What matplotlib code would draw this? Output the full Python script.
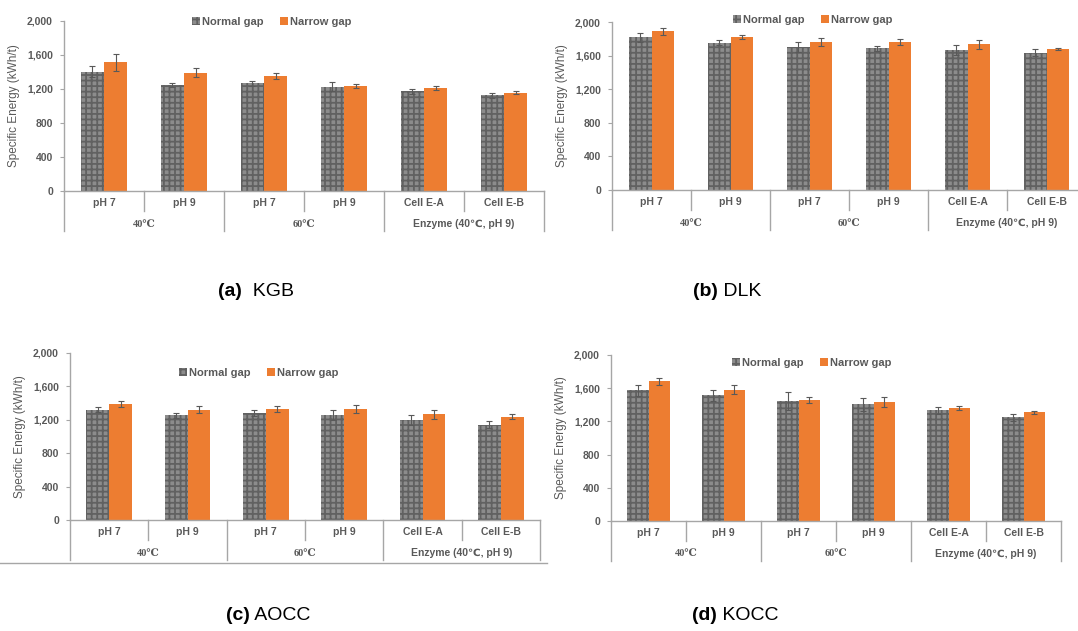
import matplotlib
matplotlib.use("Agg")
from matplotlib import pyplot as plt
from matplotlib.patches import Patch
from matplotlib.lines import Line2D
import numpy as np

plt.rcParams['font.family'] = ['Liberation Sans', 'DejaVu Sans']
plt.rcParams['hatch.linewidth'] = 1.3

# === Data ===
categories = ["pH 7", "pH 9", "pH 7", "pH 9", "Cell E-A", "Cell E-B"]
groups = ["40\u2103", "60\u2103", "Enzyme (40\u2103, pH 9)"]
series_names = ["Normal gap", "Narrow gap"]
yticks = [0, 400, 800, 1200, 1600, 2000]

kgb_normal = [1405, 1247, 1268, 1228, 1172, 1125]
kgb_normal_err = [60, 25, 30, 55, 30, 25]
kgb_narrow = [1517, 1394, 1352, 1238, 1215, 1158]
kgb_narrow_err = [100, 50, 40, 25, 25, 20]

dlk_normal = [1817, 1755, 1707, 1688, 1667, 1636]
dlk_normal_err = [50, 25, 60, 30, 60, 40]
dlk_narrow = [1889, 1821, 1762, 1762, 1734, 1680]
dlk_narrow_err = [40, 25, 45, 30, 50, 15]

aocc_normal = [1323, 1255, 1283, 1255, 1203, 1140]
aocc_normal_err = [35, 30, 40, 60, 60, 40]
aocc_narrow = [1386, 1323, 1331, 1331, 1267, 1239]
aocc_narrow_err = [35, 40, 35, 45, 55, 35]

kocc_normal = [1573, 1513, 1445, 1404, 1332, 1247]
kocc_normal_err = [65, 65, 110, 75, 40, 40]
kocc_narrow = [1682, 1581, 1457, 1433, 1364, 1308]
kocc_narrow_err = [40, 55, 40, 55, 25, 15]

# === Style ===
W, H = 1078, 631
GRAY = '#595959'
LINE = '#a6a6a6'
ORANGE = '#ED7D31'
FILL = '#8c8c8c'
HATCH = '#616161'

fig = plt.figure(figsize=(W / 100, H / 100), dpi=100)


def panel(left, right, top, zero, normal, nerr, narrow, rerr, legend_xy, caption, cap_xy):
    ax = fig.add_axes([left / W, 1 - zero / H, (right - left) / W, (zero - top) / H])
    hpx = zero - top
    x = np.arange(len(categories)) + 0.5
    w = 0.29
    ax.bar(x - w / 2, normal, w, color=FILL, edgecolor=HATCH, hatch='+++', linewidth=0)
    ax.bar(x + w / 2, narrow, w, color=ORANGE, linewidth=0)
    ax.errorbar(x - w / 2, normal, yerr=nerr, fmt='none', ecolor=GRAY, elinewidth=0.8, capsize=2, capthick=0.8)
    ax.errorbar(x + w / 2, narrow, yerr=rerr, fmt='none', ecolor=GRAY, elinewidth=0.8, capsize=2, capthick=0.8)

    ax.set_xlim(0, len(categories))
    ax.set_ylim(0, 2000)
    ax.set_yticks(yticks)
    ax.set_yticklabels(["{:,}".format(v) for v in yticks], fontsize=7.5, fontweight='bold', color=GRAY)
    ax.tick_params(axis='y', length=3, width=0.8, color=LINE, pad=5)
    ax.set_xticks([])
    for s in ['top', 'right']:
        ax.spines[s].set_visible(False)
    for s in ['left', 'bottom']:
        ax.spines[s].set_color(LINE)
        ax.spines[s].set_linewidth(1.0)
    ax.set_ylabel("Specific Energy (kWh/t)", fontsize=8.5, color=GRAY, labelpad=5)

    # two-level category axis
    tr = ax.get_xaxis_transform()
    for i in range(len(categories) + 1):
        depth = 40 if i % 2 == 0 else 20
        ax.add_line(Line2D([i, i], [0, -depth / hpx], transform=tr, color=LINE, lw=1.0, clip_on=False))
    for i, c in enumerate(categories):
        ax.text(i + 0.5, -12 / hpx, c, transform=tr, ha='center', va='center',
                fontsize=7.5, fontweight='bold', color=GRAY)
    for j, g in enumerate(groups):
        if j < 2:
            ax.text(2 * j + 1, -33 / hpx, g, transform=tr, ha='center', va='center',
                    fontsize=7.5, fontweight='bold', color=GRAY,
                    family=['Liberation Serif', 'DejaVu Serif'])
        else:
            ax.text(2 * j + 1, -33 / hpx, g, transform=tr, ha='center', va='center',
                    fontsize=7.5, fontweight='bold', color=GRAY)

    handles = [Patch(facecolor=FILL, edgecolor=HATCH, hatch='+++', linewidth=0),
               Patch(facecolor=ORANGE, linewidth=0)]
    ax.legend(handles, series_names, loc='center', ncol=2, frameon=False,
              bbox_to_anchor=(legend_xy[0] / W, 1 - legend_xy[1] / H), bbox_transform=fig.transFigure,
              handlelength=0.7, handleheight=0.7, handletextpad=0.2, columnspacing=1.5,
              prop={'size': 8, 'weight': 'bold'}, labelcolor=GRAY)

    fig.text(cap_xy[0] / W, 1 - cap_xy[1] / H, caption[0], fontsize=14, fontweight='bold',
             ha='right', va='center')
    fig.text(cap_xy[0] / W, 1 - cap_xy[1] / H, caption[1], fontsize=14, ha='left', va='center')
    return ax


panel(64, 544, 21, 191, kgb_normal, kgb_normal_err, kgb_narrow, kgb_narrow_err,
      (272, 22), ("(a)", "  KGB"), (242, 291))
panel(612, 1086, 22, 190, dlk_normal, dlk_normal_err, dlk_narrow, dlk_narrow_err,
      (813, 20), ("(b)", " DLK"), (718, 291))
panel(70, 540, 353, 520, aocc_normal, aocc_normal_err, aocc_narrow, aocc_narrow_err,
      (259, 373), ("(c)", " AOCC"), (250, 615))
panel(611, 1061, 355, 521, kocc_normal, kocc_normal_err, kocc_narrow, kocc_narrow_err,
      (812, 363), ("(d)", " KOCC"), (717, 615))

# border line under panel (c)
fig.add_artist(Line2D([0, 547 / W], [1 - 563 / H, 1 - 563 / H], transform=fig.transFigure,
                      color=LINE, lw=1.0))

fig.savefig("out.png", dpi=100)
